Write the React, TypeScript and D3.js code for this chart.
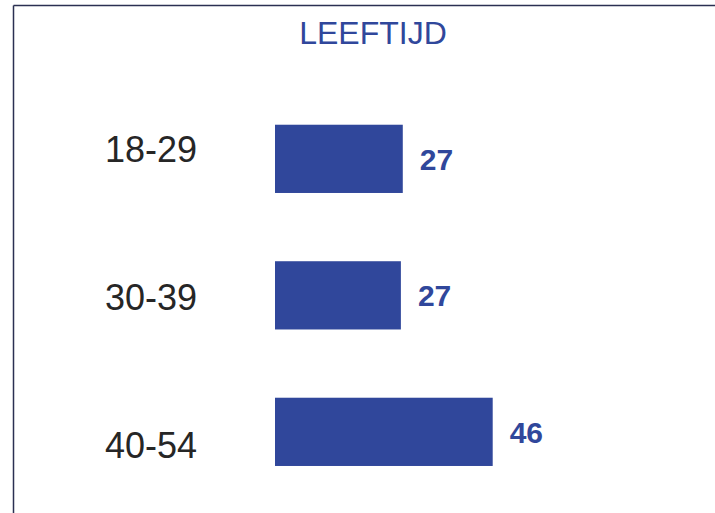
import React from "react";
import * as d3 from "d3";

const title = "LEEFTIJD";
const categories = ["18-29", "30-39", "40-54"];
const values = [27.0, 26.6, 46.0];
const valueLabels = ["27", "27", "46"];

const W = 715;
const H = 513;
const BLUE = "#30479b";

export default function App() {
  const x = d3.scaleLinear().domain([0, 46]).range([275, 492.7]);
  const yBar = d3
    .scaleBand<string>()
    .domain(categories)
    .range([90.6, 500.1])
    .paddingInner(0.5)
    .paddingOuter(0.25);
  const yLabel = d3.scalePoint<string>().domain(categories).range([162, 458]);

  return (
    <svg
      width={W}
      height={H}
      style={{ position: "absolute", left: 0, top: 0, background: "#fff" }}
      fontFamily="'Liberation Sans', Arial, sans-serif"
    >
      <line x1={13.5} y1={5.5} x2={W} y2={5.5} stroke="#2b3052" strokeWidth={1.5} />
      <line x1={13.5} y1={5.5} x2={13.5} y2={H} stroke="#2b3052" strokeWidth={1.5} />
      <text x={373} y={44} textAnchor="middle" fontSize={32} fill={BLUE}>
        {title}
      </text>
      {categories.map((c, i) => {
        const y0 = yBar(c) as number;
        const bw = yBar.bandwidth();
        return (
          <g key={c}>
            <text x={197} y={yLabel(c)} textAnchor="end" fontSize={36} fill="#262626">
              {c}
            </text>
            <rect x={x(0)} y={y0} width={x(values[i]) - x(0)} height={bw} fill={BLUE} />
            <text
              x={x(values[i]) + 17}
              y={y0 + bw / 2 + 11}
              fontSize={30}
              fontWeight="bold"
              fill={BLUE}
            >
              {valueLabels[i]}
            </text>
          </g>
        );
      })}
    </svg>
  );
}
